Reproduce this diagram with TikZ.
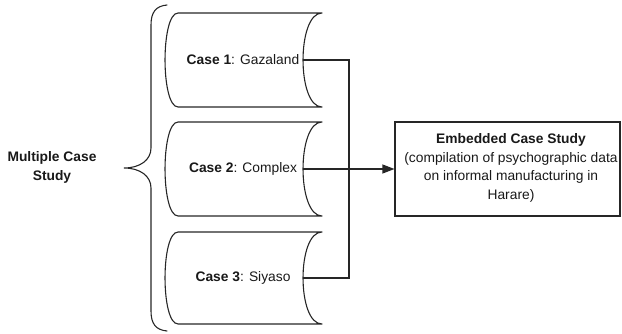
\documentclass[tikz,border=0pt]{standalone}
\usepackage{fontspec}
\setmainfont{Liberation Sans}
\usetikzlibrary{arrows.meta}
\begin{document}
\begin{tikzpicture}[x=1pt,y=-1pt,
  every node/.style={font=\fontsize{13.8}{18.5}\selectfont, text=black!90, align=center, inner sep=0pt},
  line/.style={draw=black!85, line width=1.1pt},
  casetext/.style={minimum width=1pt},
  caseshape/.style={line, line join=round},
  targetbox/.style={line, minimum width=225pt, minimum height=94pt},
  link/.style={line},
  arrowlink/.style={line, -{Triangle[length=12pt,width=9pt]}}]
  \useasboundingbox (0,0) rectangle (622,334);

  % grouping label and brace
  \node (multi) at (52,167.5) {\textbf{Multiple Case}\\\textbf{Study}};
  \draw[line, line cap=round] (167,5) .. controls (156,6) and (151,12) .. (151,25)
    -- (151,148) .. controls (151,160) and (140,168) .. (124,168)
    .. controls (140,168) and (151,176) .. (151,188)
    -- (151,311) .. controls (151,324) and (156,330) .. (167,331);

  % the three cases, each in a stored-data outline
  \node[casetext] (c1) at (243,60)  {\textbf{Case 1}: Gazaland};
  \node[casetext] (c2) at (243,169) {\textbf{Case 2}: Complex};
  \node[casetext] (c3) at (243,278) {\textbf{Case 3}: Siyaso};
  \foreach \c/\h in {c1/47,c2/47,c3/46}{
    \draw[caseshape] ([shift={(-65,-\h)}]\c.center) -- ++(144,0)
      .. controls +(-25.3,0) and +(-25.3,0) .. ++(0,2*\h)
      -- ++(-144,0)
      .. controls +(-17.3,0) and +(-17.3,0) .. cycle;
    \coordinate (\c r) at ([xshift=60pt]\c.center);
  }

  % embedded study
  \node[targetbox] (emb) at (507.5,169) {};
  \node (embtext) at (511,168) {\textbf{Embedded Case Study}\\(compilation of psychographic data\\on informal manufacturing in\\Harare)};

  % connectors
  \coordinate (junction) at (349,169);
  \draw[link] (c1r) -| (junction) |- (c3r);
  \draw[arrowlink] (c2r) -- (emb.west);
\end{tikzpicture}
\end{document}
